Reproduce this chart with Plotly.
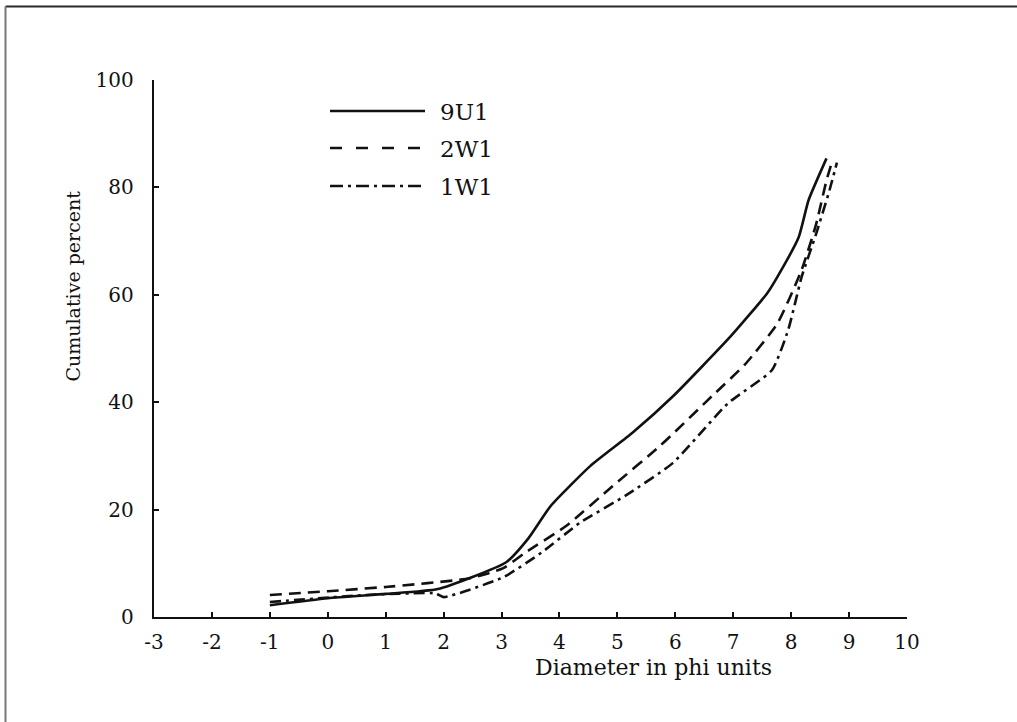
import plotly.graph_objects as go

# ---- data (against the y-axis ticks) ----
x_9u1 = [-1.0, 0.0, 1.0, 1.9, 3.08, 3.46, 3.85, 4.53, 5.26, 5.96, 6.95, 7.58, 7.76, 8.13, 8.30, 8.61]
y_9u1 = [2.2, 3.5, 4.3, 5.2, 10.2, 14.6, 20.7, 28.1, 34.3, 41.1, 52.2, 60.2, 63.3, 70.7, 77.6, 85.4]

x_2w1 = [-1.0, 0.0, 1.0, 2.45, 3.03, 3.41, 4.12, 4.92, 5.74, 6.63, 7.2, 7.76, 8.18, 8.43, 8.61, 8.70]
y_2w1 = [4.1, 4.8, 5.6, 7.2, 9.1, 12.0, 17.0, 24.4, 31.9, 41.1, 47.0, 54.6, 64.6, 73.1, 81.3, 84.6]

x_1w1 = [-1.0, 0.67, 1.86, 2.0, 3.03, 3.69, 4.36, 5.14, 5.96, 6.91, 7.67, 7.95, 8.18, 8.43, 8.66, 8.79]
y_1w1 = [2.8, 4.1, 4.4, 3.7, 7.4, 12.0, 17.6, 22.6, 28.7, 39.8, 46.0, 53.5, 63.3, 71.3, 79.4, 84.6]

series_names = ["9U1", "2W1", "1W1"]
x_ticks = list(range(-3, 11))
x_tick_text = [str(v) for v in x_ticks]  # plain hyphen as in the figure
y_ticks = [0, 20, 40, 60, 80, 100]

INK = "#111111"
FONT = "DejaVu Serif"
dash_styles = ["solid", "12px,7px", "11px,5px,3px,5px"]
legend_dash = ["solid", "12px,14px", "13px,5px,3px,5px"]

fig = go.Figure()
for name, xs, ys, d in zip(series_names, [x_9u1, x_2w1, x_1w1], [y_9u1, y_2w1, y_1w1], dash_styles):
    fig.add_trace(go.Scatter(
        x=xs, y=ys, mode="lines", name=name, showlegend=False,
        line=dict(color=INK, width=2.6, dash=d, shape="spline", smoothing=0.5),
    ))

# ---- plot-area geometry (px) ----
W, H = 1017, 722
L, R, T, B = 154, 907, 80, 617
pw, ph = R - L, B - T

def px(xp):
    return (xp - L) / pw

def py(yp):
    return (B - yp) / ph

shapes = []
# scanned page border (top and left edges)
shapes.append(dict(type="line", xref="paper", yref="paper", x0=px(5.5), x1=px(1030),
                   y0=py(6.5), y1=py(6.5), line=dict(color="#2a2a2a", width=2)))
shapes.append(dict(type="line", xref="paper", yref="paper", x0=px(5.5), x1=px(5.5),
                   y0=py(6.5), y1=py(740), line=dict(color="#777777", width=2)))

annotations = []
legend_rows = [111, 148, 186]
for name, yrow, d in zip(series_names, legend_rows, legend_dash):
    shapes.append(dict(type="line", xref="paper", yref="paper", x0=px(330), x1=px(425),
                       y0=py(yrow), y1=py(yrow), line=dict(color=INK, width=2.4, dash=d)))
    annotations.append(dict(text=name, xref="paper", yref="paper", x=px(438), y=py(yrow + 1),
                            xanchor="left", yanchor="middle", showarrow=False,
                            font=dict(family=FONT, size=23, color=INK)))

annotations.append(dict(text="Cumulative percent", xref="paper", yref="paper",
                        x=px(72), y=py(286.5), textangle=-90, showarrow=False,
                        xanchor="center", yanchor="middle",
                        font=dict(family=FONT, size=19, color=INK)))
annotations.append(dict(text="Diameter in phi units", xref="paper", yref="paper",
                        x=px(653.5), y=py(667), showarrow=False,
                        xanchor="center", yanchor="middle",
                        font=dict(family=FONT, size=22, color=INK)))

fig.update_layout(
    width=W, height=H,
    margin=dict(l=L, r=W - R, t=T, b=H - B, pad=0),
    paper_bgcolor="white", plot_bgcolor="white",
    shapes=shapes, annotations=annotations,
    showlegend=False,
)
fig.update_xaxes(
    range=[-3, 10], tickvals=x_ticks, ticktext=x_tick_text,
    showline=True, linecolor=INK, linewidth=2.4, showgrid=False, zeroline=False,
    ticks="inside", ticklen=5, tickwidth=2, tickcolor=INK,
    tickfont=dict(family=FONT, size=20, color=INK), ticklabelstandoff=6,
)
fig.update_yaxes(
    range=[0, 100], tickvals=y_ticks,
    showline=True, linecolor=INK, linewidth=2.4, showgrid=False, zeroline=False,
    ticks="inside", ticklen=5, tickwidth=2, tickcolor=INK,
    tickfont=dict(family=FONT, size=20, color=INK), ticklabelstandoff=14,
)

fig.write_html(
    "out.html",
    config={"displayModeBar": False},
    post_script="document.body.style.margin='0';document.body.style.overflow='hidden';",
)
